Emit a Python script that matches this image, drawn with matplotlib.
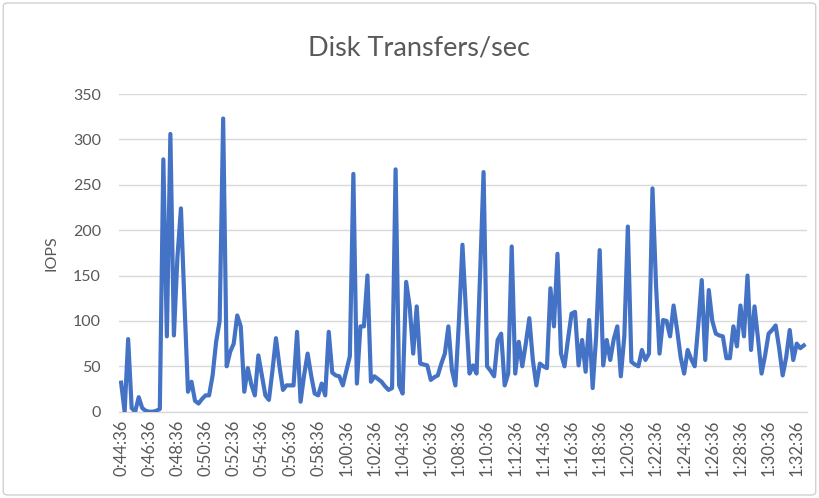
import matplotlib
matplotlib.use("Agg")
import matplotlib.pyplot as plt
from matplotlib.patches import FancyBboxPatch

# ---- data (15-second samples) ----
iops = [
    32, 0, 80, 4, 0, 16, 4, 1, 0, 0, 1, 3, 278, 83, 306, 84, 170, 224, 120, 22,
    33, 12, 9, 14, 18, 18, 40, 77, 100, 323, 50, 66, 75, 106, 94, 22, 48, 30, 18, 62,
    40, 18, 13, 45, 81, 50, 24, 29, 29, 29, 88, 11, 40, 64, 40, 20, 18, 31, 18, 88,
    43, 40, 39, 29, 45, 61, 262, 31, 94, 94, 150, 33, 39, 36, 33, 28, 24, 26, 267, 29,
    20, 143, 116, 64, 116, 53, 52, 51, 35, 38, 40, 53, 64, 94, 46, 29, 100, 184, 110, 42,
    51, 42, 150, 264, 50, 45, 39, 79, 86, 29, 42, 182, 42, 77, 50, 75, 103, 57, 29, 53,
    50, 48, 136, 94, 174, 64, 50, 80, 108, 110, 51, 79, 44, 101, 26, 83, 178, 51, 79, 57,
    80, 94, 39, 83, 204, 55, 52, 50, 68, 57, 64, 246, 140, 64, 101, 100, 83, 117, 90, 60,
    42, 68, 58, 50, 95, 145, 57, 134, 100, 86, 84, 83, 59, 59, 94, 72, 117, 83, 150, 68,
    116, 80, 42, 62, 86, 90, 95, 70, 40, 60, 90, 57, 75, 70, 73,
]
tick_labels = [
    "0:44:36", "0:46:36", "0:48:36", "0:50:36", "0:52:36", "0:54:36", "0:56:36",
    "0:58:36", "1:00:36", "1:02:36", "1:04:36", "1:06:36", "1:08:36", "1:10:36",
    "1:12:36", "1:14:36", "1:16:36", "1:18:36", "1:20:36", "1:22:36", "1:24:36",
    "1:26:36", "1:28:36", "1:30:36", "1:32:36",
]
y_ticks = [0, 50, 100, 150, 200, 250, 300, 350]
samples_per_label = 8

plt.rcParams['font.family'] = ['Lato', 'DejaVu Sans']

fig = plt.figure(figsize=(8.19, 4.98), dpi=100)
fig.patch.set_facecolor("white")
border = FancyBboxPatch((0.004, 0.006), 0.992, 0.988, boxstyle="round,pad=0,rounding_size=0.006",
                        transform=fig.transFigure, fill=False, edgecolor="#D0D0D0", linewidth=1.0)
fig.patches.append(border)

ax = fig.add_axes([0.1453, 0.1733, 0.840, 0.6379])
x = list(range(len(iops)))
ax.plot(x, iops, color="#4472C4", linewidth=3.0, solid_joinstyle="round", zorder=3)

ax.set_ylim(0, 350)
ax.set_xlim(-0.6, len(iops) - 0.1)
ax.set_yticks(y_ticks)
ax.set_xticks([i * samples_per_label for i in range(len(tick_labels))])
ax.set_xticklabels(tick_labels, rotation=90)
ax.grid(axis="y", color="#D9D9D9", linewidth=1.0, zorder=0)
ax.set_axisbelow(True)
for s in ["top", "right", "left"]:
    ax.spines[s].set_visible(False)
ax.spines["bottom"].set_color("#D9D9D9")
ax.spines["bottom"].set_linewidth(1.0)
ax.tick_params(axis="y", length=0, pad=13, labelsize=11.5, labelcolor="#595959")
ax.tick_params(axis="x", length=0, pad=6, labelsize=12, labelcolor="#595959")

ax.set_ylabel("IOPS", fontsize=11.5, color="#595959", labelpad=10)
fig.text(0.511, 0.903, "Disk Transfers/sec", ha="center", va="center", fontsize=19.5, color="#595959")

fig.savefig("out.png", dpi=100)
